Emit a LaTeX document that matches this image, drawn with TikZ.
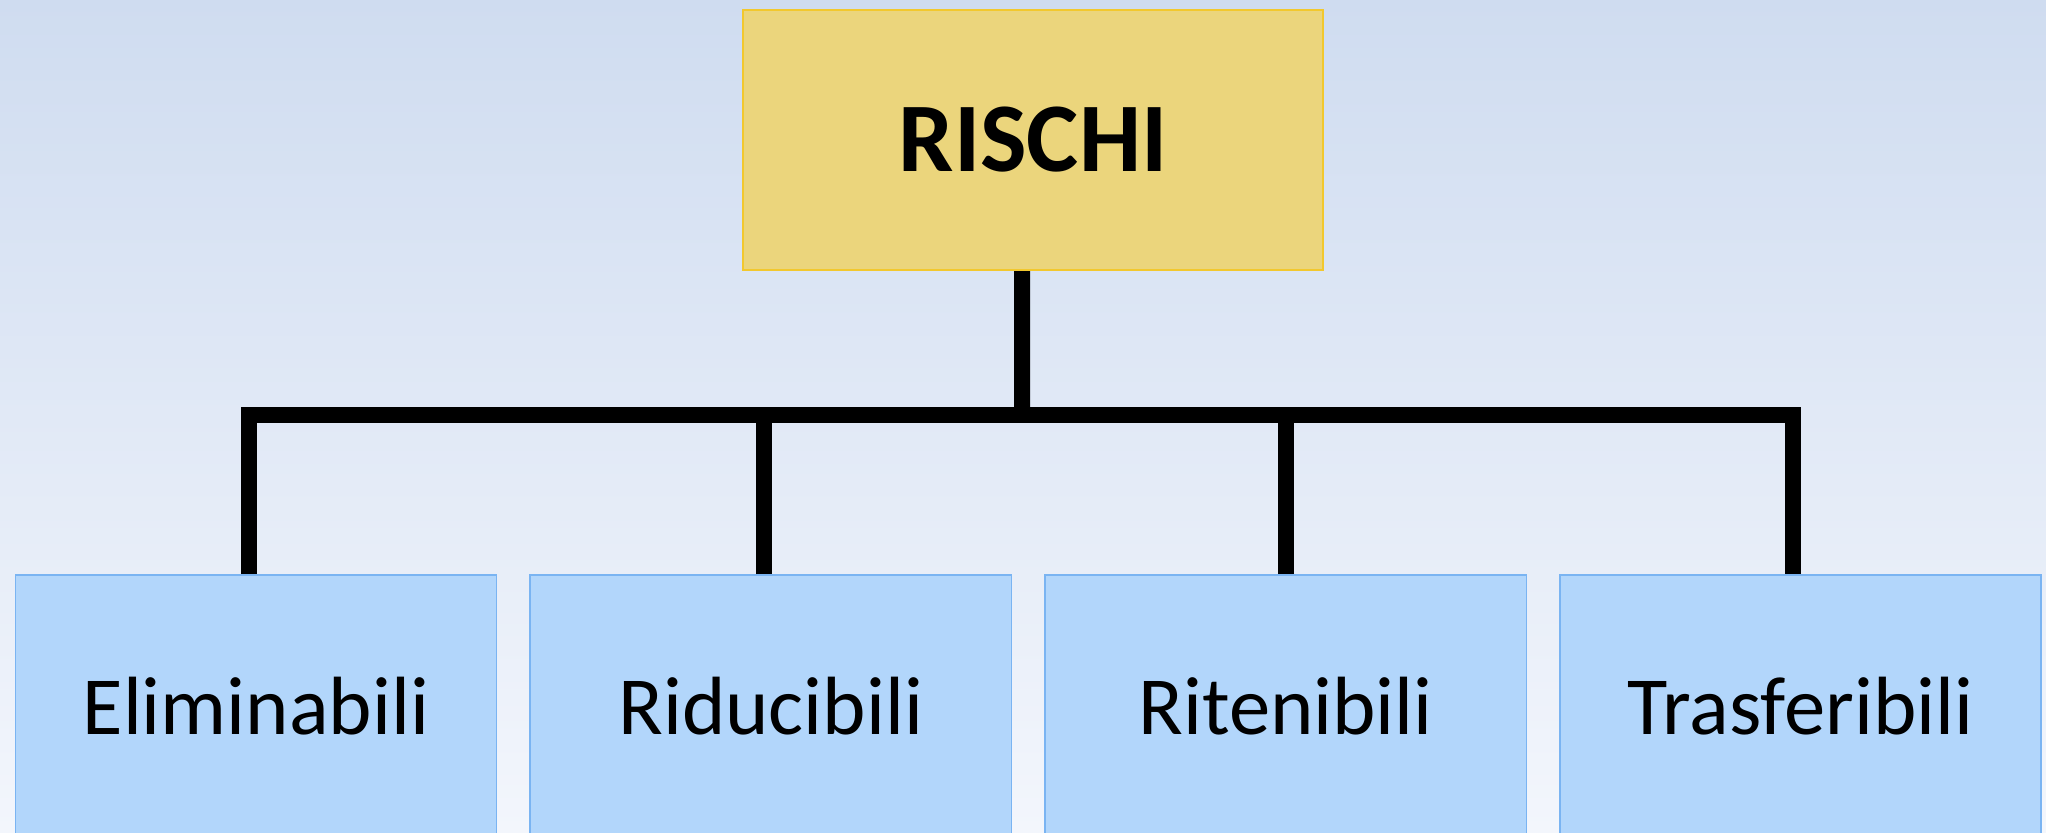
\documentclass[tikz,border=0pt]{standalone}
\usepackage{fontspec}
\setmainfont{Carlito}
\usepackage{xcolor}
\usepackage{tikz}
\usetikzlibrary{positioning}
\definecolor{bgtop}{HTML}{CFDCF0}
\definecolor{bgbot}{HTML}{F3F6FC}
\definecolor{topfill}{HTML}{EBD57C}
\definecolor{topline}{HTML}{F2C82E}
\definecolor{boxfill}{HTML}{B2D6FB}
\definecolor{boxline}{HTML}{7AB4F2}

\begin{document}
\begin{tikzpicture}[x=0.01cm, y=-0.01cm]

                \def\d{0.32cm}
                \def\s{-0.07cm}

                % Boxes of the tree
                \tikzset{
                    rootbox/.style={fill=topfill, draw=topline, line width=0.02cm,
                        minimum width=5.79cm, minimum height=2.60cm, inner sep=0pt,
                        font=\fontsize{28}{30}\selectfont\bfseries},
                    leafbox/.style={fill=boxfill, draw=boxline, line width=0.015cm,
                        minimum width=4.81cm, minimum height=2.62cm, inner sep=0pt,
                        font=\fontsize{23.5}{26}\selectfont}
                }

                \useasboundingbox (0, 0) rectangle (2046, 832);
                \fill[top color=bgtop, bottom color=bgbot] (0, 0) rectangle (2046, 832);

                \begin{scope}
                    \node (rischi) [rootbox] at (1033, 140) {RISCHI};
                    \node (elim) [leafbox] at (256, 706) {Eliminabili};
                    \node (ridu) [leafbox, right=\d of elim] {Riducibili};
                    \node (rite) [leafbox, right=\d of ridu] {Ritenibili};
                    \node (tras) [leafbox, right=\d of rite] {Trasferibili};
                    \coordinate (bar) at (1022, 415);
                \end{scope}

                \begin{scope}[line width=0.16cm]
                    \draw ([xshift=-0.11cm]rischi.south) -- (bar);
                    \draw ([xshift=\s]elim.north) -- ([xshift=\s]elim.north |- bar)
                        -| ([xshift=\s]tras.north);
                    \draw ([xshift=\s]ridu.north) -- ([xshift=\s]ridu.north |- bar);
                    \draw (rite.north) -- (rite.north |- bar);
                \end{scope}

\end{tikzpicture}
\end{document}
